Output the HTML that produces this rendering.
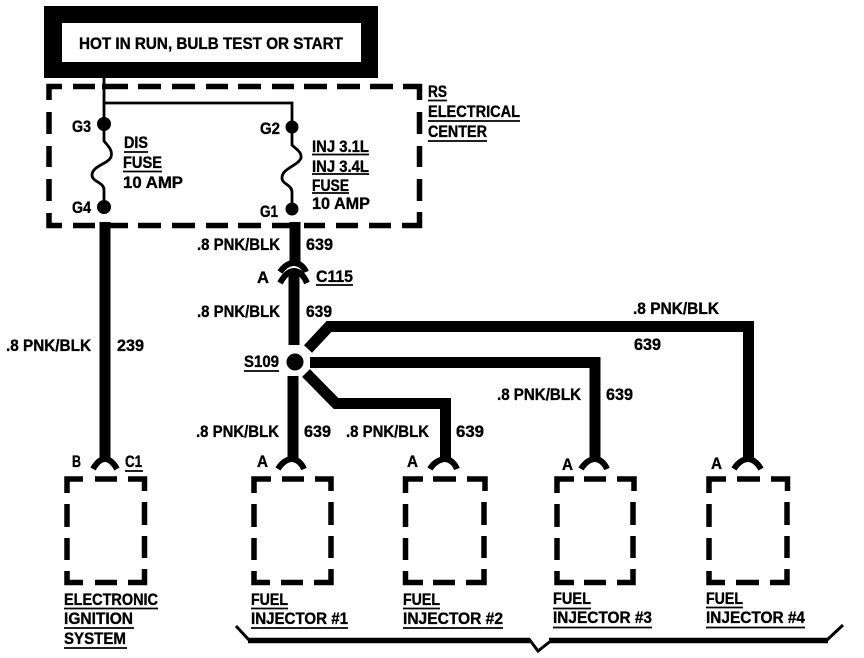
<!DOCTYPE html>
<html><head><meta charset="utf-8"><style>
html,body{margin:0;padding:0;background:#fff}
svg{display:block}
text{font-family:"Liberation Sans",sans-serif;font-weight:700;font-size:16.500px;fill:#000;stroke:#000;stroke-width:.35}
</style></head><body>
<svg width="864" height="658" viewBox="0 0 864 658" xmlns="http://www.w3.org/2000/svg">
<rect width="864" height="658" fill="#fff"/>
<!-- top box -->
<rect x="44" y="6" width="334" height="72" fill="#000"/>
<rect x="62" y="23" width="299" height="39" fill="#fff"/>
<text x="79" y="49" textLength="264" lengthAdjust="spacingAndGlyphs">HOT IN RUN, BULB TEST OR START</text>
<!-- electrical centre dashes -->
<g fill="none" stroke="#000" stroke-width="5.500">
<path d="M62 86.500H49V100M73 86.500H95M102 86.500H128M138 86.500H161M172 86.500H195M206 86.500H228M238 86.500H261M272 86.500H294M304 86.500H327M337 86.500H360M370 86.500H393M403 86.500H419.500V100"/>
<path d="M49 112V134M49 146V167M49 179V201M49 213V225.500H62M73 225.500H95M102 225.500H128M138 225.500H161M172 225.500H195M206 225.500H228M238 225.500H261M272 225.500H294M304 225.500H325M336 225.500H358M369 225.500H391M402 225.500H419.500V212M419.500 201V179M419.500 167V146M419.500 134V112"/>
</g>
<!-- internal thin wiring and fuses -->
<g fill="none" stroke="#000" stroke-width="2.800">
<path d="M104 78V130M104 103H292V130"/>
<path d="M104 130V141C108 146 113 150 111 157C108 164 92 166 92 175C92 182 104 182 104 190V207"/>
<path d="M292 130V145C296 149 302 152 301 158C298 166 282 168 282 178C282 184 292 185 292 192V209"/>
</g>
<g fill="#000">
<circle cx="104" cy="124" r="7"/><circle cx="292" cy="127" r="6.500"/>
<circle cx="104" cy="207" r="7"/><circle cx="292" cy="209" r="6.500"/>
</g>
<!-- thick wires -->
<g fill="none" stroke="#000" stroke-width="11">
<path d="M105 222V460"/>
<path d="M295 222V264"/>
<path d="M294 272V345"/>
<path d="M293 376V460"/>
<path d="M308 349L329 326.500H748.500V460"/>
<path d="M310 362.500H595V458"/>
<path d="M306 373L336 403.500H445.500V460"/>
</g>
<circle cx="295" cy="362" r="8.500" fill="#000"/>
<!-- connector arcs -->
<g fill="none" stroke="#000" stroke-width="6">
<path d="M280 272C285 265 290 263 293.500 263C298 263 303 265 306 272"/>
<path d="M280 283C285 274 290 271 294 271C298 271 303 274 307 283"/>
<path d="M93 469C97 462 101 459 105 459C109 459 113 462 117 469"/>
<path d="M278 469C282 462 288 459 292 459C296 459 301 462 304 469"/>
<path d="M430 469C434 462 441 459 445 459C449 459 454 462 457 469"/>
<path d="M581 469C585 462 591 459 595 459C599 459 604 462 607 469"/>
<path d="M734 469C738 462 744 459 748 459C752 459 757 462 761 469"/>
</g>
<!-- component dashed boxes -->
<g fill="none" stroke="#000" stroke-width="5.500">
<path d="M83 479H67V493M95 479H117M128 479H144.500V491M67 504V527M67 538V560M67 571V582.500H83M95 582.500H117M128 582.500H144.500V569M144.500 558V536M144.500 525V502"/>
<path d="M271 479H254V493M282 479H304M315 479H331V491M254 504V527M254 538V560M254 571V582.500H270M281 582.500H303M314 582.500H331V569M331 558V536M331 525V502"/>
<path d="M423 479H405.500V493M433 479H456M467 479H485V491M405.500 504V527M405.500 538V560M405.500 571V582.500H423M433 582.500H455M466 582.500H484V569M484 558V536M484 525V502"/>
<path d="M574 479H557V493M584 479H606M617 479H634V491M557 504V527M557 538V560M557 571V582.500H574M584 582.500H606M617 582.500H633V569M633 558V536M633 525V502"/>
<path d="M726 479H709V493M737 479H760M771 479H787.500V491M709 504V527M709 538V560M709 571V582.500H725M736 582.500H759M770 582.500H787V569M787 558V536M787 525V502"/>
</g>
<!-- brace -->
<path d="M248 640.500H530M549 640.500H828" fill="none" stroke="#000" stroke-width="5.500"/>
<path d="M236 626L249 640M529 639L538 651L552 640M827 640L843 625" fill="none" stroke="#000" stroke-width="3"/>
<!-- underlines -->
<g fill="none" stroke="#000" stroke-width="1.800">
<path d="M428 100.500H447M428 121H520M428 141H487"/>
<path d="M124 152H148M123 171.500H162M312 154.500H369M312 174H369M312 193H349"/>
<path d="M316 285H353M244 371H279M125 471H143"/>
<path d="M64 608.500H158M64 628H134M64 648H127"/>
<path d="M251 608.500H288M251 628H348M403 608.500H440M403 628H503M553 608.500H591M553 627.500H652M706 607.500H743M706 627.500H805"/>
</g>
<!-- labels -->
<text x="428" y="97" textLength="19" lengthAdjust="spacingAndGlyphs">RS</text>
<text x="428" y="117" textLength="92" lengthAdjust="spacingAndGlyphs">ELECTRICAL</text>
<text x="428" y="137" textLength="59" lengthAdjust="spacingAndGlyphs">CENTER</text>
<text x="72" y="132" textLength="19" lengthAdjust="spacingAndGlyphs">G3</text>
<text x="260" y="134" textLength="20" lengthAdjust="spacingAndGlyphs">G2</text>
<text x="72" y="213" textLength="19" lengthAdjust="spacingAndGlyphs">G4</text>
<text x="260" y="217" textLength="18" lengthAdjust="spacingAndGlyphs">G1</text>
<text x="124" y="148" textLength="24" lengthAdjust="spacingAndGlyphs">DIS</text>
<text x="123" y="168" textLength="39" lengthAdjust="spacingAndGlyphs">FUSE</text>
<text x="123" y="188" textLength="60" lengthAdjust="spacingAndGlyphs">10 AMP</text>
<text x="312" y="152" textLength="57" lengthAdjust="spacingAndGlyphs">INJ 3.1L</text>
<text x="312" y="172" textLength="57" lengthAdjust="spacingAndGlyphs">INJ 3.4L</text>
<text x="312" y="191" textLength="37" lengthAdjust="spacingAndGlyphs">FUSE</text>
<text x="312" y="209" textLength="58" lengthAdjust="spacingAndGlyphs">10 AMP</text>
<text x="197" y="250" textLength="83" lengthAdjust="spacingAndGlyphs">.8 PNK/BLK</text>
<text x="306" y="250" textLength="27" lengthAdjust="spacingAndGlyphs">639</text>
<text x="257" y="283" textLength="12" lengthAdjust="spacingAndGlyphs">A</text>
<text x="316" y="282" textLength="37" lengthAdjust="spacingAndGlyphs">C115</text>
<text x="197" y="317" textLength="83" lengthAdjust="spacingAndGlyphs">.8 PNK/BLK</text>
<text x="306" y="317" textLength="26" lengthAdjust="spacingAndGlyphs">639</text>
<text x="244" y="367" textLength="35" lengthAdjust="spacingAndGlyphs">S109</text>
<text x="196" y="437" textLength="83" lengthAdjust="spacingAndGlyphs">.8 PNK/BLK</text>
<text x="304" y="437" textLength="27" lengthAdjust="spacingAndGlyphs">639</text>
<text x="346" y="437" textLength="83" lengthAdjust="spacingAndGlyphs">.8 PNK/BLK</text>
<text x="456" y="437" textLength="28" lengthAdjust="spacingAndGlyphs">639</text>
<text x="633" y="314" textLength="86" lengthAdjust="spacingAndGlyphs">.8 PNK/BLK</text>
<text x="634" y="350" textLength="27" lengthAdjust="spacingAndGlyphs">639</text>
<text x="497" y="400" textLength="84" lengthAdjust="spacingAndGlyphs">.8 PNK/BLK</text>
<text x="606" y="400" textLength="27" lengthAdjust="spacingAndGlyphs">639</text>
<text x="6" y="351" textLength="85" lengthAdjust="spacingAndGlyphs">.8 PNK/BLK</text>
<text x="117" y="351" textLength="27" lengthAdjust="spacingAndGlyphs">239</text>
<text x="72" y="467" textLength="9" lengthAdjust="spacingAndGlyphs">B</text>
<text x="125" y="467" textLength="17" lengthAdjust="spacingAndGlyphs">C1</text>
<text x="257" y="467" textLength="11" lengthAdjust="spacingAndGlyphs">A</text>
<text x="407" y="467" textLength="11" lengthAdjust="spacingAndGlyphs">A</text>
<text x="562" y="470" textLength="11" lengthAdjust="spacingAndGlyphs">A</text>
<text x="711" y="469" textLength="11" lengthAdjust="spacingAndGlyphs">A</text>
<text x="64" y="605" textLength="94" lengthAdjust="spacingAndGlyphs">ELECTRONIC</text>
<text x="64" y="624" textLength="69" lengthAdjust="spacingAndGlyphs">IGNITION</text>
<text x="64" y="644" textLength="62" lengthAdjust="spacingAndGlyphs">SYSTEM</text>
<text x="251" y="605" textLength="37" lengthAdjust="spacingAndGlyphs">FUEL</text>
<text x="251" y="624" textLength="97" lengthAdjust="spacingAndGlyphs">INJECTOR #1</text>
<text x="403" y="605" textLength="37" lengthAdjust="spacingAndGlyphs">FUEL</text>
<text x="403" y="624" textLength="100" lengthAdjust="spacingAndGlyphs">INJECTOR #2</text>
<text x="553" y="604" textLength="38" lengthAdjust="spacingAndGlyphs">FUEL</text>
<text x="553" y="623" textLength="99" lengthAdjust="spacingAndGlyphs">INJECTOR #3</text>
<text x="706" y="604" textLength="37" lengthAdjust="spacingAndGlyphs">FUEL</text>
<text x="706" y="623" textLength="99" lengthAdjust="spacingAndGlyphs">INJECTOR #4</text>
</svg>
</body></html>
